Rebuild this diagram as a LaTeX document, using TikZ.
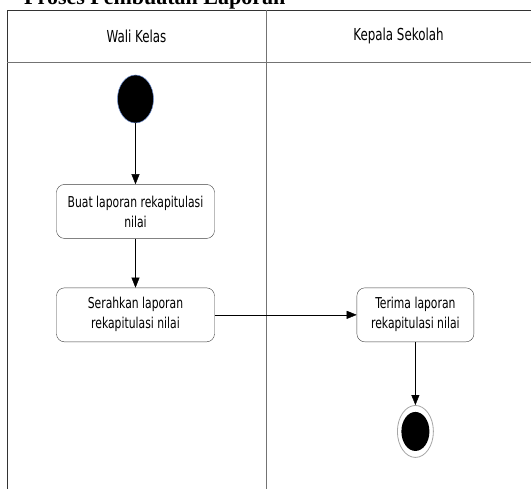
\documentclass[tikz,border=0pt]{standalone}
\usepackage{fontspec}
\setmainfont{DejaVu Sans Condensed}[FakeStretch=0.8]
\newfontfamily\titlefont{Liberation Serif}
\usetikzlibrary{positioning,arrows.meta,shapes.geometric}
\tikzset{
->,
>={Triangle[width=8pt,length=10pt]},
line width=0.8pt,
activity/.style={-, draw=black!75, fill=white, rounded corners=8pt, align=center,
  minimum height=54pt, font=\fontsize{15}{20}\selectfont, inner sep=0pt},
startnode/.style={-, ellipse, fill=black, draw=cyan!40!blue!60, line width=0.5pt,
  minimum width=36pt, minimum height=48pt, inner sep=0pt},
endnode/.style={-, ellipse, fill=white, draw=black!35, line width=0.8pt,
  minimum width=36pt, minimum height=52pt, inner sep=0pt},
endcore/.style={-, ellipse, fill=black, minimum width=28pt, minimum height=39pt, inner sep=0pt},
lane/.style={-, draw=black!80, line width=0.9pt},
lanetitle/.style={font=\fontsize{16.5}{18}\selectfont},
}

\begin{document}
\begin{tikzpicture}[x=1pt, y=-1pt]
        \clip (0,0) rectangle (531,489);
        \useasboundingbox (0,0) rectangle (531,489);

        % judul
        \node[anchor=base west, font=\titlefont\bfseries\fontsize{22}{24}\selectfont, inner sep=0pt]
            (judul) at (24,5) {Proses Pembuatan Laporan};

        % swimlane
        \draw[lane] (7,495) -- (7,10) -- (535,10);
        \draw[lane, draw=black!55] (7,62) -- (535,62);
        \draw[lane, draw=black!55] (266,10) -- (266,495);
        \node[lanetitle] (wali) at (136.5,36) {Wali Kelas};
        \node[lanetitle] (kepsek) at (398.5,36) {Kepala Sekolah};

        % aktivitas
        \node[startnode] (mulai) at (135.5,99) {};
        \node[activity, minimum width=158pt, below=61pt of mulai] (buat) {Buat laporan rekapitulasi\\nilai};
        \node[activity, minimum width=158pt, below=49pt of buat] (serah) {Serahkan laporan\\rekapitulasi nilai};
        \node[activity, minimum width=117pt, right=142pt of serah] (terima) {Terima laporan\\rekapitulasi nilai};
        \node[endnode, below=63pt of terima] (selesai) {};
        \node[endcore] (selesaiin) at (selesai) {};

        \draw (mulai) -- (buat);
        \draw (buat) -- (serah);
        \draw (serah) -- (terima);
        \draw (terima) -- (selesai);

    \end{tikzpicture}
\end{document}
